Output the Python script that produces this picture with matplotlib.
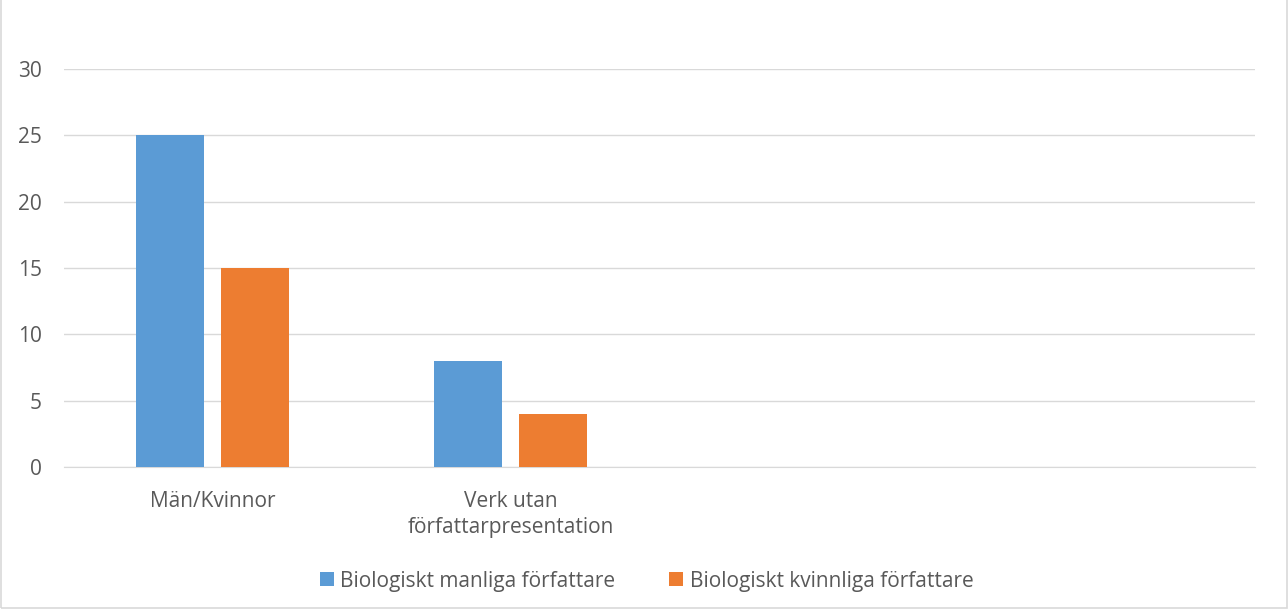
import matplotlib
matplotlib.use("Agg")
import matplotlib.pyplot as plt
import numpy as np

categories = ["Män/Kvinnor", "Verk utan\nförfattarpresentation", "", ""]
male = [25, 8, np.nan, np.nan]
female = [15, 4, np.nan, np.nan]

plt.rcParams["font.family"] = ["Open Sans", "DejaVu Sans"]
text_color = "#595959"

fig = plt.figure(figsize=(12.88, 6.09), dpi=100)
ax = fig.add_axes([64 / 1288, 1 - 467 / 609, 1191 / 1288, 398 / 609])

x = np.arange(len(categories))
w = 0.228
off = 0.1427
ax.bar(x - off, male, w, color="#5B9BD5", label="Biologiskt manliga författare", zorder=3)
ax.bar(x + off, female, w, color="#ED7D31", label="Biologiskt kvinnliga författare", zorder=3)

ax.set_xlim(-0.5, len(categories) - 0.5)
ax.set_ylim(0, 30)
ax.set_yticks(range(0, 31, 5))
ax.set_xticks(x)
ax.set_xticklabels(categories, color=text_color, fontsize=15, linespacing=1.35)
ax.tick_params(axis="y", colors=text_color, labelsize=15, length=0, pad=16)
ax.tick_params(axis="x", length=0, pad=17)
ax.grid(axis="y", color="#D9D9D9", linewidth=1, zorder=0)
for s in ["top", "right", "left"]:
    ax.spines[s].set_visible(False)
ax.spines["bottom"].set_color("#D9D9D9")

fig.legend(loc="center", bbox_to_anchor=(0.502, 1 - 581 / 609), ncol=2, frameon=False,
           fontsize=15, handlelength=0.67, handleheight=0.67, handletextpad=0.3,
           columnspacing=2.6, labelcolor=text_color)

fig.patches.append(plt.Rectangle((0.0005, 0.001), 0.999, 1.2, transform=fig.transFigure,
                                 fill=False, edgecolor="#D9D9D9", linewidth=1.2))

fig.savefig("out.png", dpi=100)
